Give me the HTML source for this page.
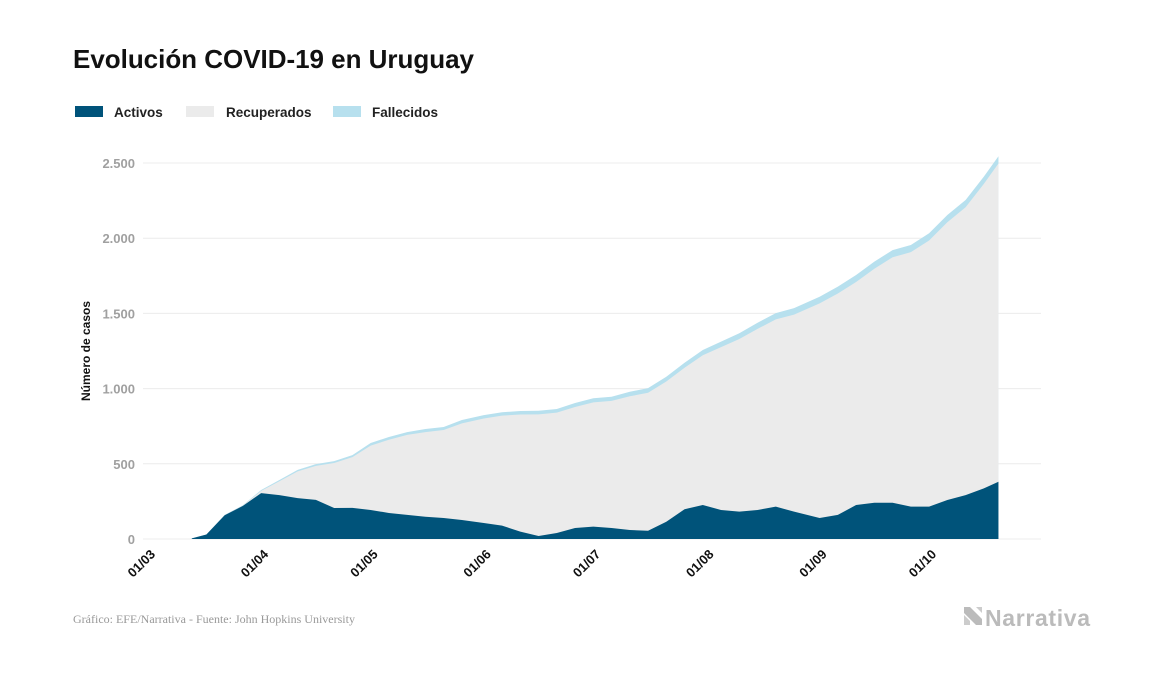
<!DOCTYPE html>
<html><head><meta charset="utf-8">
<style>
body{margin:0;background:#fff;width:1157px;height:674px;overflow:hidden;font-family:"Liberation Sans",sans-serif;}
svg{display:block}
</style></head>
<body>
<svg width="1157" height="674" viewBox="0 0 1157 674">
<text x="73" y="68" font-size="26" font-weight="bold" fill="#111" textLength="401">Evolución COVID-19 en Uruguay</text>
<g font-size="13.5" font-weight="bold" fill="#222">
  <g><rect x="75" y="106" width="28" height="11" fill="#00537a"/><text x="114" y="117">Activos</text></g>
  <g><rect x="186" y="106" width="28" height="11" fill="#ebebeb"/><text x="226" y="117">Recuperados</text></g>
  <g><rect x="333" y="106" width="28" height="11" fill="#b7e0ee"/><text x="372" y="117">Fallecidos</text></g>
</g>
<g id="grid"></g>
<g id="yticks"></g>
<g id="areas"></g>
<g id="xticks"></g>
<text transform="translate(90,351) rotate(-90)" text-anchor="middle" font-size="12" font-weight="bold" fill="#111">Número de casos</text>
<text x="73" y="623" font-family="Liberation Serif,serif" font-size="12" fill="#999">Gráfico: EFE/Narrativa - Fuente: John Hopkins University</text>
<g>
  <polygon points="964,607 970,607 982,619 982,625 976,625 964,613" fill="#bbb"/>
  <polygon points="964,615 970,621 970,625 964,625" fill="#ccc"/>
  <polygon points="976,607 982,607 982,613" fill="#ccc"/>
  <text x="985" y="626" font-size="23" font-weight="bold" fill="#bbb" textLength="105">Narrativa</text>
</g>
</svg>
<script>
// days since 1 March
const days = [12,16,21,26,31,36,41,46,51,56,61,66,71,76,81,86,92,97,102,107,112,117,122,127,132,137,142,147,152,157,162,167,172,177,184,189,194,199,204,209,214,219,224,229,233];
const totalCases = [4,30,160,225,326,392,460,498,518,558,638,678,711,731,745,791,824,843,851,853,864,904,936,946,979,1003,1079,1172,1257,1312,1368,1438,1502,1535,1611,1678,1755,1844,1921,1955,2033,2154,2254,2409,2545];
const activeCases = [4,30,158,220,305,292,272,260,206,207,193,173,160,148,140,126,106,89,49,20,40,73,82,73,60,55,115,198,226,193,182,193,215,182,140,160,226,241,241,215,215,259,292,337,381];
const deaths = [0,0,1,2,6,8,10,12,13,14,17,18,19,20,20,22,23,23,23,24,24,26,28,28,30,31,32,33,35,36,38,41,42,43,44,46,46,47,48,48,48,48,48,48,48];
const yTickVals = [0,500,1000,1500,2000,2500];
const yTickLabels = ["0","500","1.000","1.500","2.000","2.500"];
const xTickDays = [0,31,61,92,122,153,184,214];
const xTickLabels = ["01/03","01/04","01/05","01/06","01/07","01/08","01/09","01/10"];

const NS="http://www.w3.org/2000/svg";
const X0=148, PXD=3.65, Y0=539, PXC=376/2500;
const xs=d=>X0+d*PXD;
const ys=v=>Y0-v*PXC;
function mk(tag,attrs,parent){const e=document.createElementNS(NS,tag);for(const k in attrs)e.setAttribute(k,attrs[k]);parent.appendChild(e);return e;}

const grid=document.getElementById('grid'), yt=document.getElementById('yticks');
yTickVals.forEach((v,i)=>{
  const l=mk('line',{x1:143,x2:1041,y1:ys(v),y2:ys(v),stroke:'#ececec','stroke-width':1},grid);
  
  
  const t=mk('text',{x:135,y:ys(v)+5,'text-anchor':'end','font-size':13,'font-weight':'bold',fill:'#a0a0a0'},yt);
  t.textContent=yTickLabels[i];
  
  
});
const xt=document.getElementById('xticks');
xTickDays.forEach((d,i)=>{
  const x=xs(d)+8;
  const t=mk('text',{x:x,y:555,'text-anchor':'end','font-size':13,'font-weight':'bold',fill:'#111',transform:`rotate(-45 ${x} 555)`},xt);
  t.textContent=xTickLabels[i];
  
  
});
function area(vals,fill,name){
  let d=`M${xs(days[0])},${Y0}`;
  vals.forEach((v,i)=>{d+=` L${xs(days[i])},${ys(v)}`;});
  d+=` L${xs(days[days.length-1])},${Y0} Z`;
  const p=mk('path',{d:d,fill:fill},document.getElementById('areas'));
  
  
}
area(totalCases,'#b7e0ee','fallecidos-area');
area(totalCases.map((t,i)=>t-deaths[i]),'#ebebeb','recuperados-area');
area(activeCases,'#00537a','activos-area');
</script>
</body></html>
